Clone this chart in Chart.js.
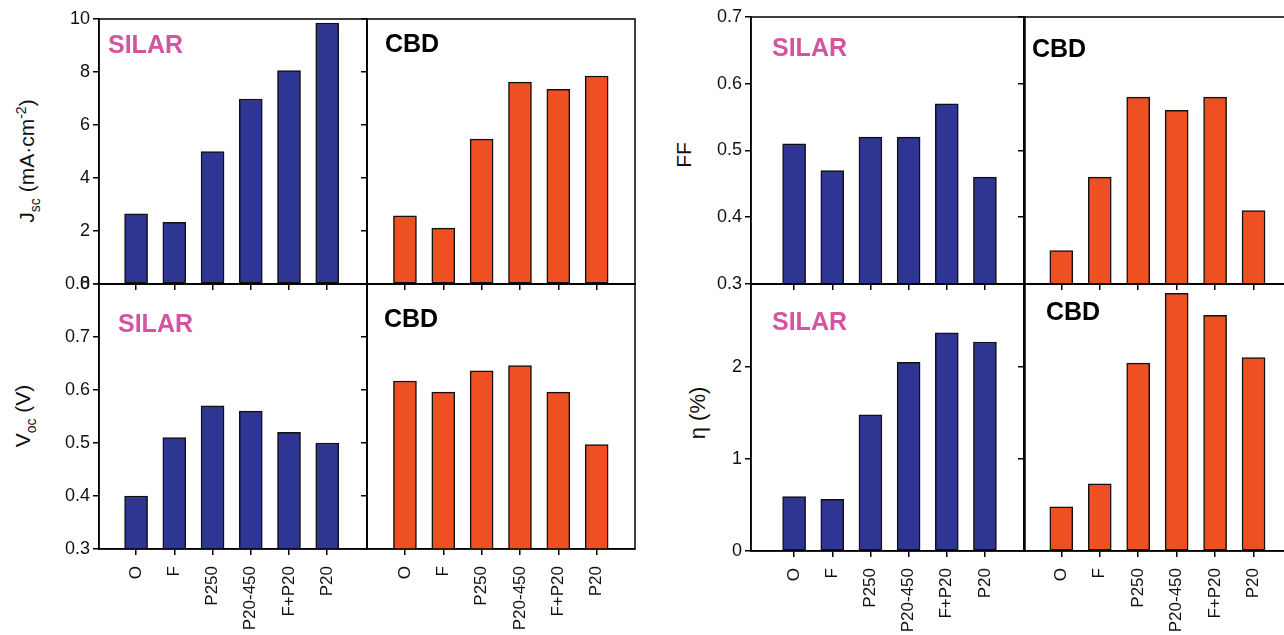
<!DOCTYPE html>
<html>
<head>
<meta charset="utf-8">
<script src="https://cdn.jsdelivr.net/npm/chart.js@4.4.1/dist/chart.umd.min.js"></script>
<style>
  html, body { margin: 0; padding: 0; background: #fff; }
  #wrap { position: relative; width: 1284px; height: 635px; overflow: hidden; background: #fff; }
  #wrap canvas { position: absolute; }
  .ytitle { position: absolute; transform: translate(-50%, -50%) rotate(-90deg); white-space: nowrap;
    font-family: "Liberation Sans", Arial, sans-serif; font-size: 21px; color: #111; line-height: 1; }
  .ytitle sub, .ytitle sup { font-size: 14px; }
</style>
</head>
<body>
<div id="wrap">
  <div class="ytitle" style="left:28px; top:161px;">J<sub>sc</sub> (mA·cm<sup>-2</sup>)</div>
  <div class="ytitle" style="left:25px; top:416px;">V<sub>oc</sub> (V)</div>
  <div class="ytitle" style="left:683px; top:155px;">FF</div>
  <div class="ytitle" style="left:698px; top:413px; font-size:22px;">η (%)</div>
</div>
<script>
// treatments on the x axis
const categories = ['O', 'F', 'P250', 'P20-450', 'F+P20', 'P20'];

// values
const jscSilar = [2.65, 2.33, 5.0, 6.98, 8.05, 9.85];
const jscCbd   = [2.57, 2.11, 5.47, 7.62, 7.35, 7.85];
const vocSilar = [0.40, 0.51, 0.57, 0.56, 0.52, 0.50];
const vocCbd   = [0.617, 0.596, 0.636, 0.646, 0.596, 0.497];
const ffSilar  = [0.51, 0.47, 0.52, 0.52, 0.57, 0.46];
const ffCbd    = [0.35, 0.46, 0.58, 0.56, 0.58, 0.41];
const etaSilar = [0.59, 0.56, 1.48, 2.05, 2.37, 2.27];
const etaCbd   = [0.48, 0.73, 2.04, 2.80, 2.56, 2.10];

// y tick labels
const jscTicks = [0, 2, 4, 6, 8, 10];
const vocTicks = [0.3, 0.4, 0.5, 0.6, 0.7, 0.8];
const ffTicks  = [0.3, 0.4, 0.5, 0.6, 0.7];
const etaTicks = [0, 1, 2];

const BLUE = '#2e3592';
const ORANGE = '#ee5022';
const PINK = '#d4559f';
const FONT = '"Liberation Sans", Arial, sans-serif';
const YW = 60, PADT = 14, PADR = 12;

// draws the box round the plot area and the SILAR / CBD tag
const panelPlugin = {
  id: 'panel',
  afterDraw(chart, args, opts) {
    const a = chart.chartArea, ctx = chart.ctx;
    ctx.save();
    ctx.strokeStyle = '#000';
    ctx.lineWidth = 1.5;
    ctx.strokeRect(a.left, a.top, a.right - a.left, a.bottom - a.top);
    ctx.font = 'bold 25px ' + FONT;
    ctx.fillStyle = opts.color;
    ctx.textBaseline = 'alphabetic';
    ctx.fillText(opts.text, a.left + opts.dx, a.top + opts.dy);
    ctx.restore();
  }
};

function makePanel(p) {
  const cv = document.createElement('canvas');
  const xh = p.bottom ? 110 : 16;
  const W = YW + p.w + PADR, H = PADT + p.h + xh;
  cv.width = W; cv.height = H;
  cv.style.left = (p.left - YW) + 'px';
  cv.style.top = (p.top - PADT) + 'px';
  cv.style.width = W + 'px'; cv.style.height = H + 'px';
  document.getElementById('wrap').appendChild(cv);

  const pts = p.values.map((v, i) => ({ x: i + 1, y: v }));
  new Chart(cv.getContext('2d'), {
    type: 'bar',
    data: { datasets: [{ data: pts, backgroundColor: p.color, borderColor: '#111',
      borderWidth: 1.5, borderSkipped: false, barThickness: 23 }] },
    plugins: [panelPlugin],
    options: {
      responsive: false, animation: false,
      layout: { padding: { top: PADT, right: PADR, left: 0, bottom: 0 } },
      plugins: { legend: { display: false }, tooltip: { enabled: false },
        panel: { text: p.label, color: p.labelColor, dx: p.dx, dy: p.dy } },
      scales: {
        x: {
          type: 'linear', min: p.xmin, max: p.xmax, offset: false,
          afterBuildTicks: s => { s.ticks = categories.map((c, i) => ({ value: i + 1 })); },
          afterFit: s => { s.height = xh; },
          grid: { offset: false, drawOnChartArea: false, drawTicks: true, tickLength: 6, color: '#000', lineWidth: 1.5 },
          border: { display: true, color: '#000', width: 1.5 },
          ticks: { display: p.bottom, autoSkip: false, minRotation: 90, maxRotation: 90, padding: 11,
            color: '#111', font: { family: FONT, size: 17 },
            callback: v => categories[Math.round(v) - 1] }
        },
        y: {
          min: p.ymin, max: p.ymax,
          afterBuildTicks: s => { s.ticks = p.ticks.map(v => ({ value: v })); },
          afterFit: s => { s.width = YW; },
          grid: { drawOnChartArea: false, drawTicks: true, tickLength: 6, color: '#000', lineWidth: 1.5 },
          border: { display: true, color: '#000', width: 1.5 },
          ticks: { display: p.yLabels, padding: 3, color: '#111', font: { family: FONT, size: 18 },
            callback: v => String(v) }
        }
      }
    }
  });
}

const panels = [
  { values: jscSilar, color: BLUE, label: 'SILAR', labelColor: PINK, dx: 9, dy: 34,
    left: 99, top: 19, w: 268, h: 265, xmin: 0.03, xmax: 7.04, ymin: 0, ymax: 10, ticks: jscTicks, yLabels: true, bottom: false },
  { values: jscCbd, color: ORANGE, label: 'CBD', labelColor: '#000', dx: 18, dy: 33,
    left: 367, top: 19, w: 268, h: 265, xmin: 0.01, xmax: 7.0, ymin: 0, ymax: 10, ticks: jscTicks, yLabels: false, bottom: false },
  { values: vocSilar, color: BLUE, label: 'SILAR', labelColor: PINK, dx: 19, dy: 48,
    left: 99, top: 284, w: 268, h: 265, xmin: 0.03, xmax: 7.04, ymin: 0.3, ymax: 0.8, ticks: vocTicks, yLabels: true, bottom: true },
  { values: vocCbd, color: ORANGE, label: 'CBD', labelColor: '#000', dx: 17, dy: 43,
    left: 367, top: 284, w: 268, h: 265, xmin: 0.01, xmax: 7.0, ymin: 0.3, ymax: 0.8, ticks: vocTicks, yLabels: false, bottom: true },
  { values: ffSilar, color: BLUE, label: 'SILAR', labelColor: PINK, dx: 21, dy: 39,
    left: 751, top: 17, w: 274, h: 267, xmin: -0.13, xmax: 7.05, ymin: 0.3, ymax: 0.7, ticks: ffTicks, yLabels: true, bottom: false },
  { values: ffCbd, color: ORANGE, label: 'CBD', labelColor: '#000', dx: 8, dy: 40,
    left: 1024, top: 17, w: 268, h: 267, xmin: 0.03, xmax: 7.0, ymin: 0.3, ymax: 0.7, ticks: ffTicks, yLabels: false, bottom: false },
  { values: etaSilar, color: BLUE, label: 'SILAR', labelColor: PINK, dx: 21, dy: 46,
    left: 751, top: 284, w: 274, h: 267, xmin: -0.13, xmax: 7.05, ymin: 0, ymax: 2.9, ticks: etaTicks, yLabels: true, bottom: true },
  { values: etaCbd, color: ORANGE, label: 'CBD', labelColor: '#000', dx: 22, dy: 36,
    left: 1024, top: 284, w: 268, h: 267, xmin: 0.03, xmax: 7.0, ymin: 0, ymax: 2.9, ticks: etaTicks, yLabels: false, bottom: true }
];

panels.forEach(makePanel);
</script>
</body>
</html>
